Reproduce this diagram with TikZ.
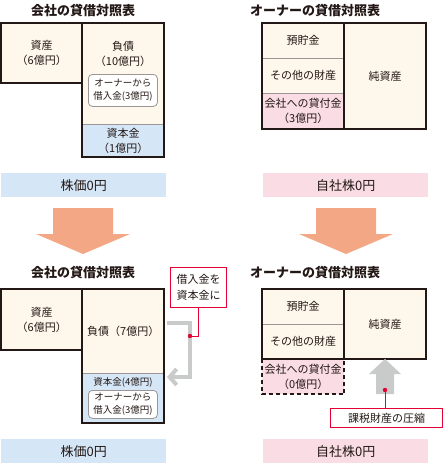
\documentclass[tikz,border=0pt]{standalone}
\usepackage{fontspec}
\setmainfont{Noto Sans CJK JP}
\usetikzlibrary{arrows.meta}
\definecolor{ink}{HTML}{231815}
\definecolor{cream}{HTML}{FEF8EC}
\definecolor{capblue}{HTML}{D5E7F7}
\definecolor{barpink}{HTML}{FADDE4}
\definecolor{loanpink}{HTML}{F9DCE4}
\definecolor{arroworange}{HTML}{F3A784}
\definecolor{arrowgray}{HTML}{C9CACA}
\definecolor{notered}{HTML}{E50033}
\tikzset{
  cell/.style 2 args={fill=cream, inner sep=0pt, anchor=north west, minimum width=#1pt, minimum height=#2pt},
  txt/.style={align=center, inner sep=0pt, text=ink, font=\fontsize{11}{15}\selectfont},
  small/.style={align=center, inner sep=0pt, text=ink, font=\fontsize{9.5}{13}\selectfont},
  title/.style={text=ink, inner sep=0pt, font=\fontsize{13}{13}\selectfont\bfseries},
  frame/.style={draw=ink, line width=2pt},
  divider/.style={draw=ink!45, line width=0.8pt},
  loanbox/.style={draw=ink!45, line width=0.8pt, fill=white, rounded corners=4pt, anchor=north west, minimum width=69pt, minimum height=#1pt},
  bar/.style={fill=#1, anchor=north west, minimum width=165pt, minimum height=24pt, inner sep=0pt, text=ink, font=\fontsize{13}{13}\selectfont},
  note/.style={draw=notered, line width=1pt, fill=white, anchor=north west, inner sep=0pt, align=center, text=ink},
  redline/.style={draw=notered, line width=1pt},
  reddot/.style={fill=notered},
}
\begin{document}
\begin{tikzpicture}[x=1pt,y=-1pt]
  \useasboundingbox (0,0) rectangle (443,463);

  % titles
  \node[title] (title1) at (83,11) {会社の貸借対照表};
  \node[title] (title2) at (315,11) {オーナーの貸借対照表};
  \node[title] (title3) at (83,273) {会社の貸借対照表};
  \node[title] (title4) at (315,273) {オーナーの貸借対照表};

  % company before
  \node[cell={81}{60}] (asset1) at (1,23) {};
  \node[cell={82}{101}] (liab1) at (82,23) {};
  \node[cell={82}{33}, fill=capblue] (cap1) at (82,124) {};
  \draw[divider] (cap1.north west) -- (cap1.north east);
  \draw[frame] (asset1.north west) rectangle (asset1.south east);
  \draw[frame] (liab1.north west) rectangle (cap1.south east);
  \node[txt] at (asset1.center) {資産\\（6億円）};
  \node[txt] (debt1) at (123,54) {負債\\（10億円）};
  \node[loanbox=32] (loan1) at (88,74) {};
  \node[small] at (loan1.center) {オーナーから\\借入金(3億円)};
  \node[txt] at (cap1.center) {資本金\\（1億円）};

  % owner before
  \node[cell={82}{35}] (dep1) at (262,23) {};
  \node[cell={82}{35}] (other1) at (262,58) {};
  \node[cell={82}{36}, fill=loanpink] (lend1) at (262,93) {};
  \node[cell={82}{106}] (net1) at (344,23) {};
  \draw[divider] (other1.north west) -- (other1.north east) (lend1.north west) -- (lend1.north east);
  \draw[frame] (dep1.north west) rectangle (net1.south east);
  \draw[frame] (net1.north west) -- (net1.south west);
  \node[txt] at (dep1.center) {預貯金};
  \node[txt] at (other1.center) {その他の財産};
  \node[txt] at (lend1.center) {会社への貸付金\\（3億円）};
  \node[txt] at (net1.center) {純資産};

  % bars
  \node[bar=capblue] (price1) at (1,173) {株価0円};
  \node[bar=barpink] (stock1) at (263,173) {自社株0円};
  \node[bar=capblue] (price2) at (1,439) {株価0円};
  \node[bar=barpink] (stock2) at (263,439) {自社株0円};

  % big arrows
  \foreach \cx in {83,346} {
    \fill[arroworange] (\cx-30,208) -- (\cx+30,208) -- (\cx+30,234) -- (\cx+47,234)
      -- (\cx,254) -- (\cx-47,234) -- (\cx-30,234) -- cycle;
  }

  % company after
  \node[cell={81}{61}] (asset2) at (1,289) {};
  \node[cell={82}{84}] (liab2) at (82,289) {};
  \node[cell={82}{50}, fill=capblue] (cap2) at (82,373) {};
  \draw[divider] (cap2.north west) -- (cap2.north east);
  \draw[frame] (asset2.north west) rectangle (asset2.south east);
  \draw[frame] (liab2.north west) rectangle (cap2.south east);
  \node[txt] at (asset2.center) {資産\\（6億円）};
  \node[txt] at (liab2.center) {負債（7億円）};
  \node[small] (cap2t) at (123,382) {資本金(4億円)};
  \node[loanbox=28] (loan2) at (88,390) {};
  \node[small] at (loan2.center) {オーナーから\\借入金(3億円)};

  % callout: loan to capital
  \node[note, minimum width=56pt, minimum height=40pt, font=\fontsize{11}{16}\selectfont] (note1) at (170,267) {借入金を\\資本金に};
  \coordinate (gin) at (167,323);
  \coordinate (gout) at (167,377);
  \coordinate (dot1) at (190,336);
  \draw[arrowgray, line width=4pt, -{Straight Barb[length=7pt,width=16pt,line width=4pt]}]
    (gin) -- (190,323) -- (190,377) -- (gout);
  \draw[redline] (note1.south) |- (dot1);
  \fill[reddot] (dot1) circle (2.2);

  % owner after
  \node[cell={82}{35}] (dep2) at (262,289) {};
  \node[cell={82}{35}] (other2) at (262,324) {};
  \node[cell={82}{70}] (net2) at (344,289) {};
  \node[cell={82}{35}, fill=loanpink] (lend2) at (262,359) {};
  \draw[divider] (other2.north west) -- (other2.north east);
  \draw[frame] (dep2.north west) rectangle (net2.south east);
  \draw[frame] (net2.north west) -- (net2.south west);
  \draw[frame, dash pattern=on 4pt off 3pt] (lend2.north west) -- (lend2.south west)
    -- (lend2.south east) -- (lend2.north east);
  \node[txt] at (dep2.center) {預貯金};
  \node[txt] at (other2.center) {その他の財産};
  \node[txt] at (net2.center) {純資産};
  \node[txt] at (lend2.center) {会社への貸付金\\（0億円）};

  % up arrow and callout
  \coordinate (tip) at (385,359);
  \fill[arrowgray] (tip) -- (401,374) -- (394,374) -- (394,394) -- (376,394) -- (376,374) -- (369,374) -- cycle;
  \coordinate (dot2) at (385,390);
  \node[note, minimum width=112pt, minimum height=19pt, font=\fontsize{11}{11}\selectfont] (note2) at (330,408) {課税財産の圧縮};
  \draw[redline] (dot2) -- (dot2 |- note2.north);
  \fill[reddot] (dot2) circle (2.2);
\end{tikzpicture}
\end{document}
